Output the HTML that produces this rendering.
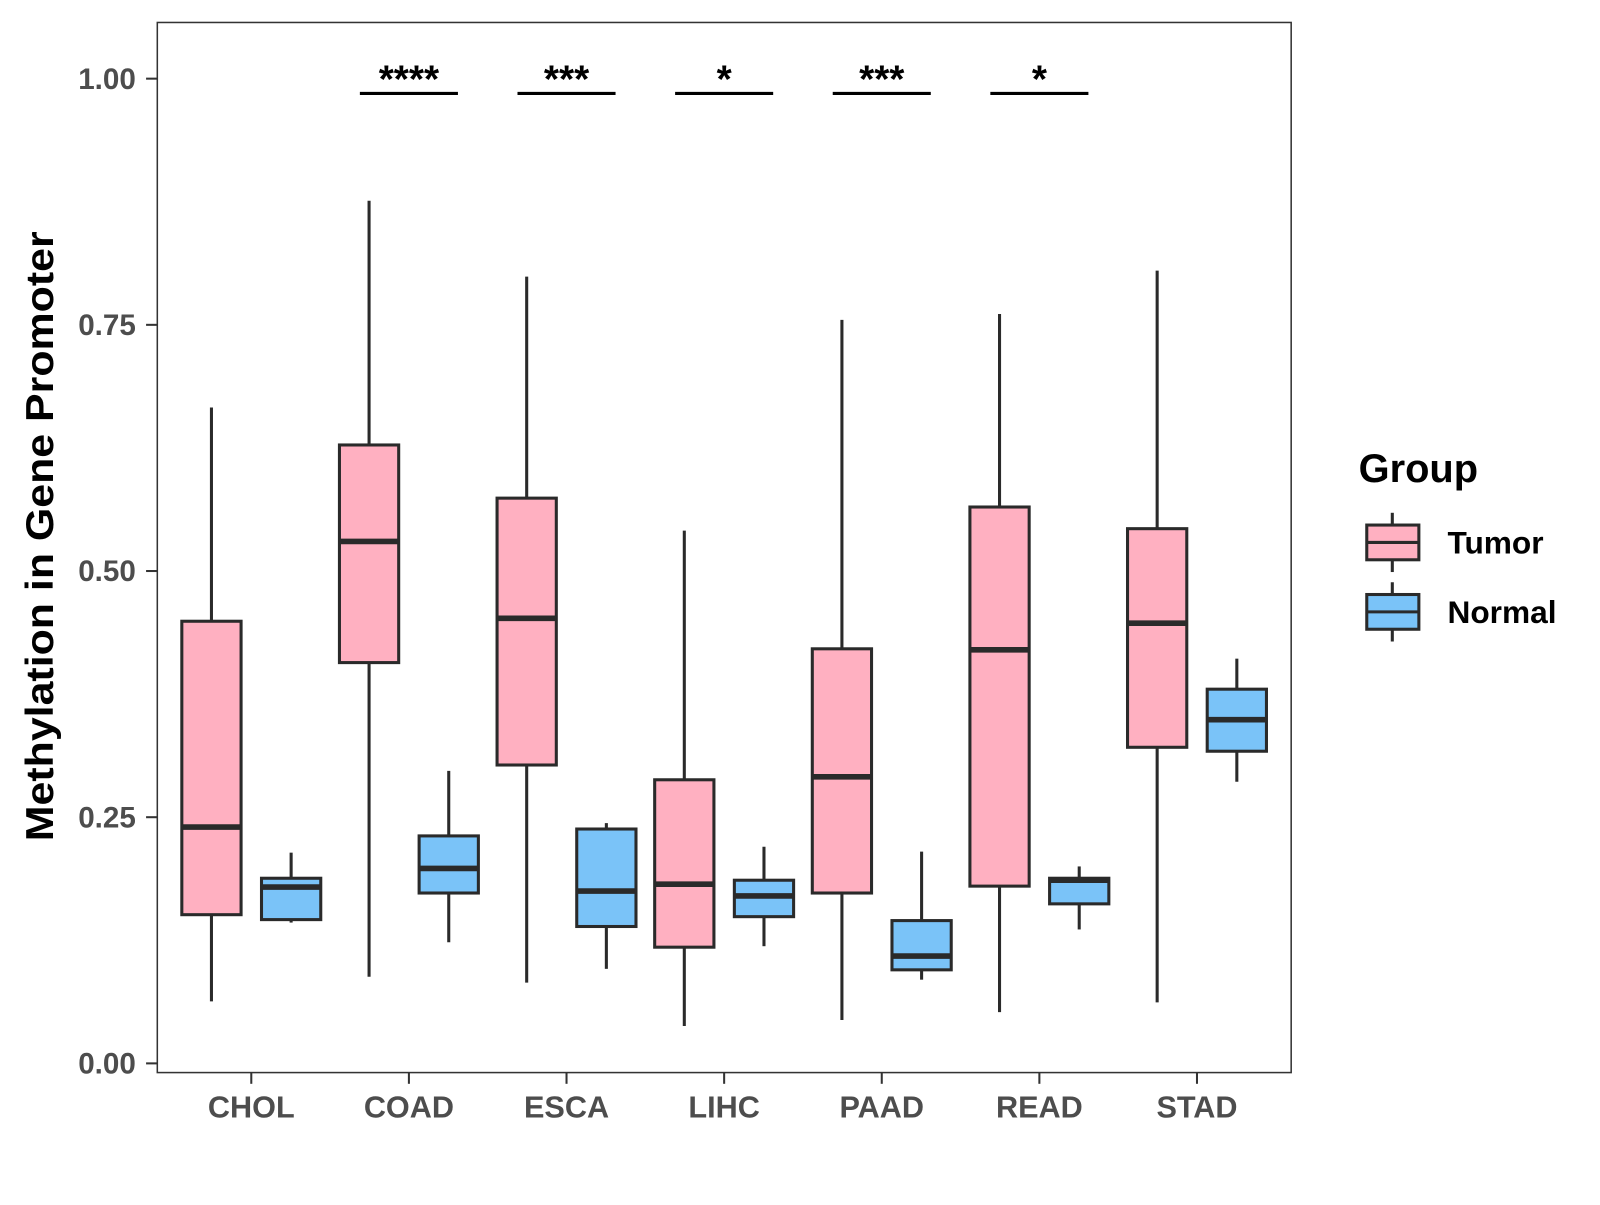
<!DOCTYPE html>
<html><head><meta charset="utf-8"><style>
body{margin:0;background:#fff}
svg text{font-family:"Liberation Sans",Arial,sans-serif;font-weight:bold}
</style></head><body>
<svg id="chart" width="1600" height="1200" xmlns="http://www.w3.org/2000/svg">
<rect width="1600" height="1200" fill="#fff"/>
<g id="plot" transform="scale(1.0215)"></g>
</svg>
<script>
const categories=["CHOL","COAD","ESCA","LIHC","PAAD","READ","STAD"];
const tumorLow=[0.063,0.088,0.082,0.038,0.044,0.052,0.062];
const tumorQ1=[0.151,0.407,0.303,0.118,0.173,0.180,0.321];
const tumorMed=[0.240,0.530,0.452,0.182,0.291,0.420,0.447];
const tumorQ3=[0.449,0.628,0.574,0.288,0.421,0.565,0.543];
const tumorHigh=[0.666,0.876,0.799,0.541,0.755,0.761,0.805];
const normalLow=[0.143,0.123,0.096,0.119,0.085,0.136,0.286];
const normalQ1=[0.146,0.173,0.139,0.149,0.095,0.162,0.317];
const normalMed=[0.179,0.198,0.175,0.170,0.109,0.186,0.349];
const normalQ3=[0.188,0.231,0.238,0.186,0.145,0.188,0.380];
const normalHigh=[0.214,0.297,0.244,0.220,0.215,0.200,0.411];
const signif=["","****","***","*","***","*",""];
const yTicks=[0,0.25,0.5,0.75,1.0];
const yTickLabels=["0.00","0.25","0.50","0.75","1.00"];

const NS="http://www.w3.org/2000/svg";
const g=document.getElementById("plot");
const L=154,T=22,R=1264,B=1050;
const y=v=>1041-v*964;
const x=i=>246+i*154.3;
function el(tag,attrs,parent){const e=document.createElementNS(NS,tag);for(const k in attrs)e.setAttribute(k,attrs[k]);(parent||g).appendChild(e);return e;}

const frame=el("rect",{x:L,y:T,width:R-L,height:B-T,fill:"none",stroke:"#333","stroke-width":1.5});



yTicks.forEach((t,i)=>{
  const tk=el("line",{x1:143,x2:L,y1:y(t),y2:y(t),stroke:"#333","stroke-width":2});
  
  
  const tl=el("text",{x:133,y:y(t)+10,"text-anchor":"end","font-size":29,fill:"#4d4d4d"});
  tl.textContent=yTickLabels[i];
  
  
});
const yt=el("text",{transform:"translate(52,525) rotate(-90)","text-anchor":"middle","font-size":38,textLength:597,lengthAdjust:"spacingAndGlyphs",fill:"#000"});
yt.textContent="Methylation in Gene Promoter";



function box(cx,lo,q1,md,q3,hi,fill,name){
  const grp=el("g",{});
  
  
  el("line",{x1:cx,x2:cx,y1:y(hi),y2:y(q3),stroke:"#2a2a2a","stroke-width":3},grp);
  el("line",{x1:cx,x2:cx,y1:y(q1),y2:y(lo),stroke:"#2a2a2a","stroke-width":3},grp);
  el("rect",{x:cx-29,y:y(q3),width:58,height:y(q1)-y(q3),fill:fill,stroke:"#2a2a2a","stroke-width":3},grp);
  el("line",{x1:cx-29,x2:cx+29,y1:y(md),y2:y(md),stroke:"#2a2a2a","stroke-width":5.5},grp);
}
categories.forEach((c,i)=>{
  const cx=x(i);
  box(cx-39,tumorLow[i],tumorQ1[i],tumorMed[i],tumorQ3[i],tumorHigh[i],"#FFB0C1","tumor-box-"+c.toLowerCase());
  box(cx+39,normalLow[i],normalQ1[i],normalMed[i],normalQ3[i],normalHigh[i],"#7AC3F8","normal-box-"+c.toLowerCase());
  const tk=el("line",{x1:cx,x2:cx,y1:B,y2:B+11,stroke:"#333","stroke-width":2});
  
  
  const tl=el("text",{x:cx,y:1094,"text-anchor":"middle","font-size":30,fill:"#4d4d4d"});
  tl.textContent=c;
  
  
  if(signif[i]){
    const sl=el("line",{x1:cx-48,x2:cx+48,y1:y(0.985),y2:y(0.985),stroke:"#000","stroke-width":3});
    
    
    const st=el("text",{x:cx,y:y(0.985)-1,"text-anchor":"middle","font-size":38,fill:"#000"});
    st.textContent=signif[i];
    
    
  }
});

const lt=el("text",{x:1330,y:472,"font-size":39,fill:"#000"});
lt.textContent="Group";


[["Tumor","#FFB0C1",531],["Normal","#7AC3F8",599]].forEach(([n,f,cy])=>{
  const lg=el("g",{});
  
  
  el("line",{x1:1363,x2:1363,y1:cy-29,y2:cy+29,stroke:"#2a2a2a","stroke-width":3},lg);
  el("rect",{x:1338,y:cy-17,width:51,height:34,fill:f,stroke:"#2a2a2a","stroke-width":3},lg);
  el("line",{x1:1338,x2:1389,y1:cy,y2:cy,stroke:"#2a2a2a","stroke-width":3},lg);
  const t=el("text",{x:1417,y:cy+11,"font-size":31,fill:"#000"},lg);
  t.textContent=n;
});
</script>
</body></html>
